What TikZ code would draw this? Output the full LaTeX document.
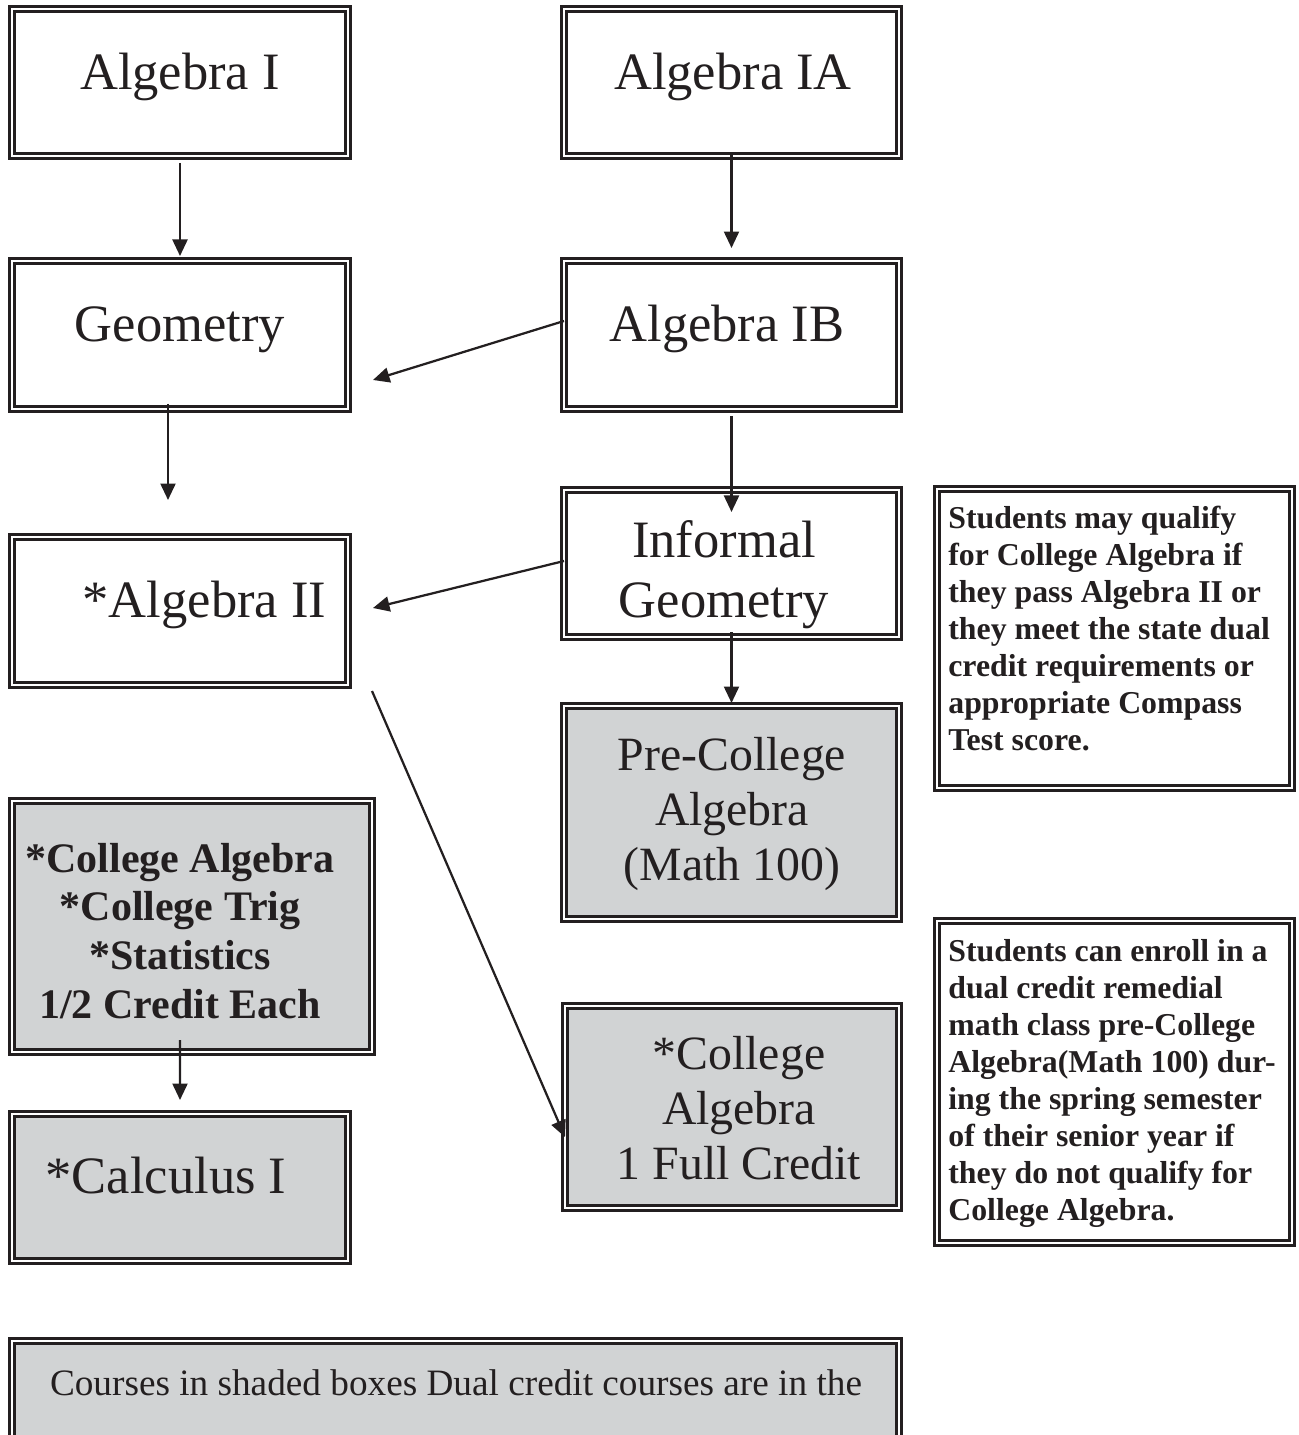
\documentclass[tikz,border=0pt]{standalone}
\usepackage{fontspec}
\setmainfont{Liberation Serif}
\usetikzlibrary{arrows.meta}
\definecolor{ink}{RGB}{35,31,32}
\definecolor{shade}{RGB}{209,211,212}

\tikzset{
  dbox/.style 2 args={draw=ink, line width=0.065cm, double=white, double distance=0.04cm,
    minimum width=#1*0.02cm, minimum height=#2*0.02cm, inner sep=0, outer sep=0},
  big/.style={inner sep=0, anchor=base, align=center, text=ink, font=\fontsize{29.9}{33.6}\selectfont},
  mid/.style={inner sep=0, anchor=base, align=center, text=ink, font=\fontsize{27.2}{31.3}\selectfont},
  bld/.style={inner sep=0, anchor=base, align=center, text=ink, font=\bfseries\fontsize{23.9}{27.7}\selectfont},
  note/.style={inner sep=0, anchor=base west, align=left, text=ink, font=\bfseries\fontsize{18.1}{21.05}\selectfont},
  arr/.style={draw=ink, line width=0.045cm, -{Triangle[length=0.33cm, width=0.3cm]}}
}

\begin{document}
\begin{tikzpicture}[x=0.02cm,y=-0.02cm]
\useasboundingbox (0,0) rectangle (1298,1435);
\clip (0,0) rectangle (1298,1435);

% boxes
\node[dbox={336}{147}] (alg1) at (180,82.5) {};
\node[dbox={335}{147}] (alg1a) at (731.5,82.5) {};
\node[dbox={336}{148}] (geom) at (180,335) {};
\node[dbox={335}{148}] (alg1b) at (731.5,335) {};
\node[dbox={336}{148}] (alg2) at (180,611) {};
\node[dbox={335}{147}] (infgeom) at (731.5,563.5) {};
\node[dbox={335}{213}, fill=shade] (precoll) at (731.5,812.5) {};
\node[dbox={355}{299}] (note1) at (1114.5,638.5) {};
\node[dbox={360}{251}, fill=shade] (collset) at (192,926.5) {};
\node[dbox={334}{202}, fill=shade] (fullcred) at (732,1107) {};
\node[dbox={355}{322}] (note2) at (1114.5,1082) {};
\node[dbox={336}{147}, fill=shade] (calc) at (180,1187.5) {};
\node[dbox={887}{154}, fill=shade] (legend) at (455.5,1418) {};

% texts (multi-line ones sit on their last line)
\node[big] (t-alg1) at (180,90) {Algebra I};
\node[big] (t-alg1a) at (733,90) {Algebra IA};
\node[big] (t-geom) at (180,342) {Geometry};
\node[big] (t-alg1b) at (727,342) {Algebra IB};
\node[big] (t-alg2) at (204.5,617) {*Algebra II};
\node[big] (t-infgeom) at (724,617) {Informal\\Geometry};
\node[mid] (t-precoll) at (732,880) {Pre-College\\Algebra\\(Math 100)};
\node[mid] (t-fullcred) at (739,1179) {*College\\Algebra\\1 Full Credit};
\node[bld] (t-collset) at (180,1018) {*College Algebra\\*College Trig\\*Statistics\\1/2 Credit Each};
\node[big] (t-calc) at (166,1193) {*Calculus I};
\node[note] (t-note1) at (948,750) {Students may qualify\\for College Algebra if\\they pass Algebra II or\\they meet the state dual\\credit requirements or\\appropriate Compass\\Test score.};
\node[note] (t-note2) at (948,1220) {Students can enroll in a\\dual credit remedial\\math class pre-College\\Algebra(Math 100) dur-\\ing the spring semester\\of their senior year if\\they do not qualify for\\College Algebra.};
\node[inner sep=0, anchor=base, text=ink, font=\fontsize{21.2}{24}\selectfont] (t-legend) at (456,1395) {Courses in shaded boxes Dual credit courses are in the};

% arrows
\draw[arr, shorten <=0.14cm, shorten >=0.1cm] (alg1.south) -- (geom.north);
\draw[arr, shorten <=-0.06cm, shorten >=0.26cm] (alg1a.south) -- (alg1a.south |- alg1b.north);
\draw[arr] ([yshift=0.28cm]alg1b.west) -- ([xshift=0.5cm,yshift=-0.9cm]geom.east);
\draw[arr, shorten <=-0.1cm, shorten >=0.74cm] ([xshift=-0.24cm]geom.south) -- ([xshift=-0.24cm]alg2.north);
\draw[arr, shorten <=0.14cm, shorten >=-0.44cm] (alg1b.south) -- (infgeom.north);
\draw[arr] ([yshift=0.05cm]infgeom.west) -- ([xshift=0.5cm,yshift=0.06cm]alg2.east);
\draw[arr, shorten <=-0.1cm, shorten >=0.06cm] (infgeom.south) -- (precoll.north);
\draw[arr] ([xshift=0.48cm,yshift=-0.12cm]alg2.south east) -- ([yshift=-0.6cm]fullcred.west);
\draw[arr, shorten <=-0.24cm, shorten >=0.28cm] ([xshift=-0.24cm]collset.south) -- (calc.north);
\end{tikzpicture}
\end{document}
